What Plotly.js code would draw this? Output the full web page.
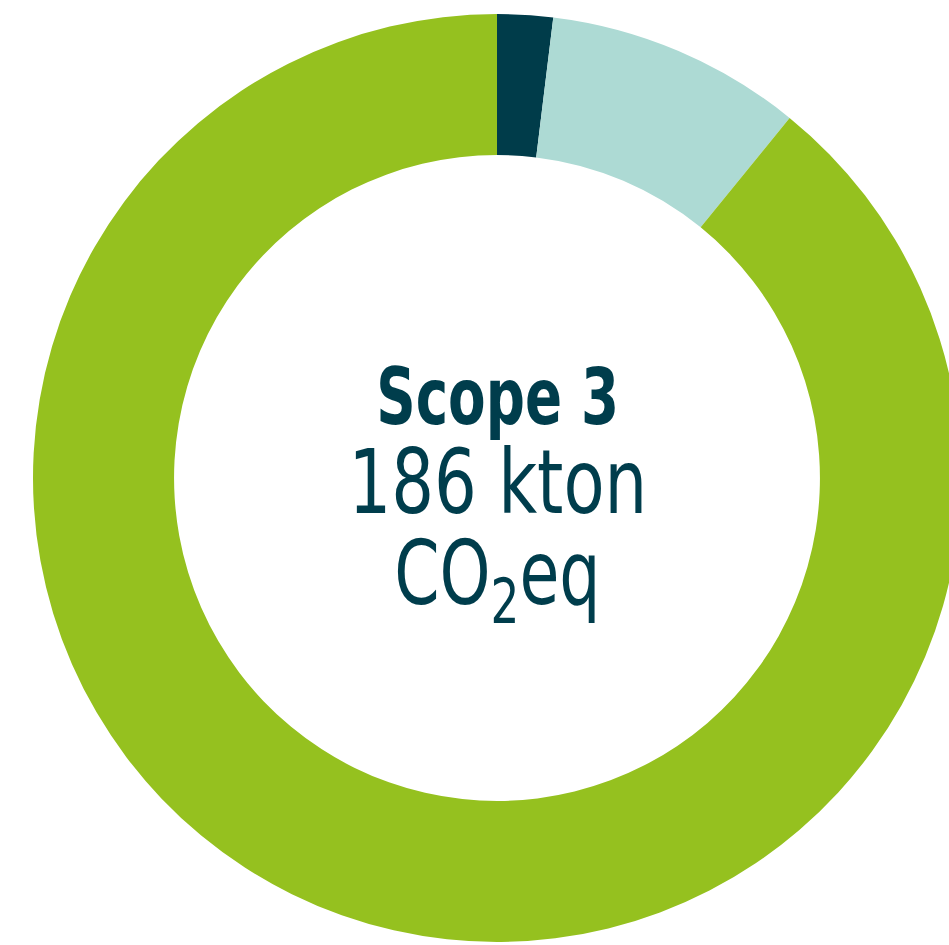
<!DOCTYPE html>
<html>
<head>
<meta charset="utf-8">
<script src="https://cdn.plot.ly/plotly-3.0.1.min.js"></script>
<style>
html,body{margin:0;padding:0;overflow:hidden;background:#fff;width:949px;height:945px;}
#chart{width:994px;height:945px;}
</style>
</head>
<body>
<div id="chart"></div>
<script>
// Scope 3 breakdown (kton CO2eq), read from the ring
const categories = ["Categorie A", "Categorie B", "Categorie C"];
const values = [3.6, 16.6, 165.8];
const sliceColors = ["#003c4a", "#addad4", "#95c11f"];

const titleLine = "Scope 3";
const totalLine = "186 kton";
const unitLine = "CO<sub>2</sub>eq";

const textColor = "#003d4c";
const fontFam = "'Liberation Sans Narrow', 'DejaVu Sans Condensed', 'Roboto', sans-serif";

const W = 994, H = 945;
const cx = 498;

// horizontal squeeze per line, to approximate the condensed face of the original
const squeeze = [0.78, 0.84, 0.81];

const data = [{
  type: "pie",
  labels: categories,
  values: values,
  sort: false,
  direction: "clockwise",
  rotation: 0,
  hole: 0.696,
  textinfo: "none",
  hoverinfo: "label+value",
  marker: {colors: sliceColors, line: {width: 0}},
  domain: {x: [0, 1], y: [3/H, 1 - 14/H]}
}];

const layout = {
  width: W, height: H,
  margin: {l: 0, r: 0, t: 0, b: 0},
  paper_bgcolor: "#ffffff",
  showlegend: false,
  annotations: [
    {text: "<b>" + titleLine + "</b>", x: cx / W, y: 1 - 397 / H, xref: "paper", yref: "paper",
     xanchor: "center", yanchor: "middle", showarrow: false,
     font: {family: fontFam, size: 78, color: textColor}},
    {text: totalLine, x: cx / W, y: 1 - 482 / H, xref: "paper", yref: "paper",
     xanchor: "center", yanchor: "middle", showarrow: false,
     font: {family: fontFam, size: 89, color: textColor}},
    {text: unitLine, x: cx / W, y: 1 - 579 / H, xref: "paper", yref: "paper",
     xanchor: "center", yanchor: "middle", showarrow: false,
     font: {family: fontFam, size: 89, color: textColor}}
  ]
};

Plotly.newPlot("chart", data, layout, {displayModeBar: false, responsive: false}).then(function (gd) {
  const texts = gd.querySelectorAll("g.annotation text.annotation-text");
  texts.forEach(function (t, i) {
    const s = squeeze[i] || 1;
    const b = t.getBBox();
    const mx = b.x + b.width / 2;
    t.setAttribute("transform", "translate(" + mx + ",0) scale(" + s + ",1) translate(" + (-mx) + ",0)");
  });
});
</script>
</body>
</html>
